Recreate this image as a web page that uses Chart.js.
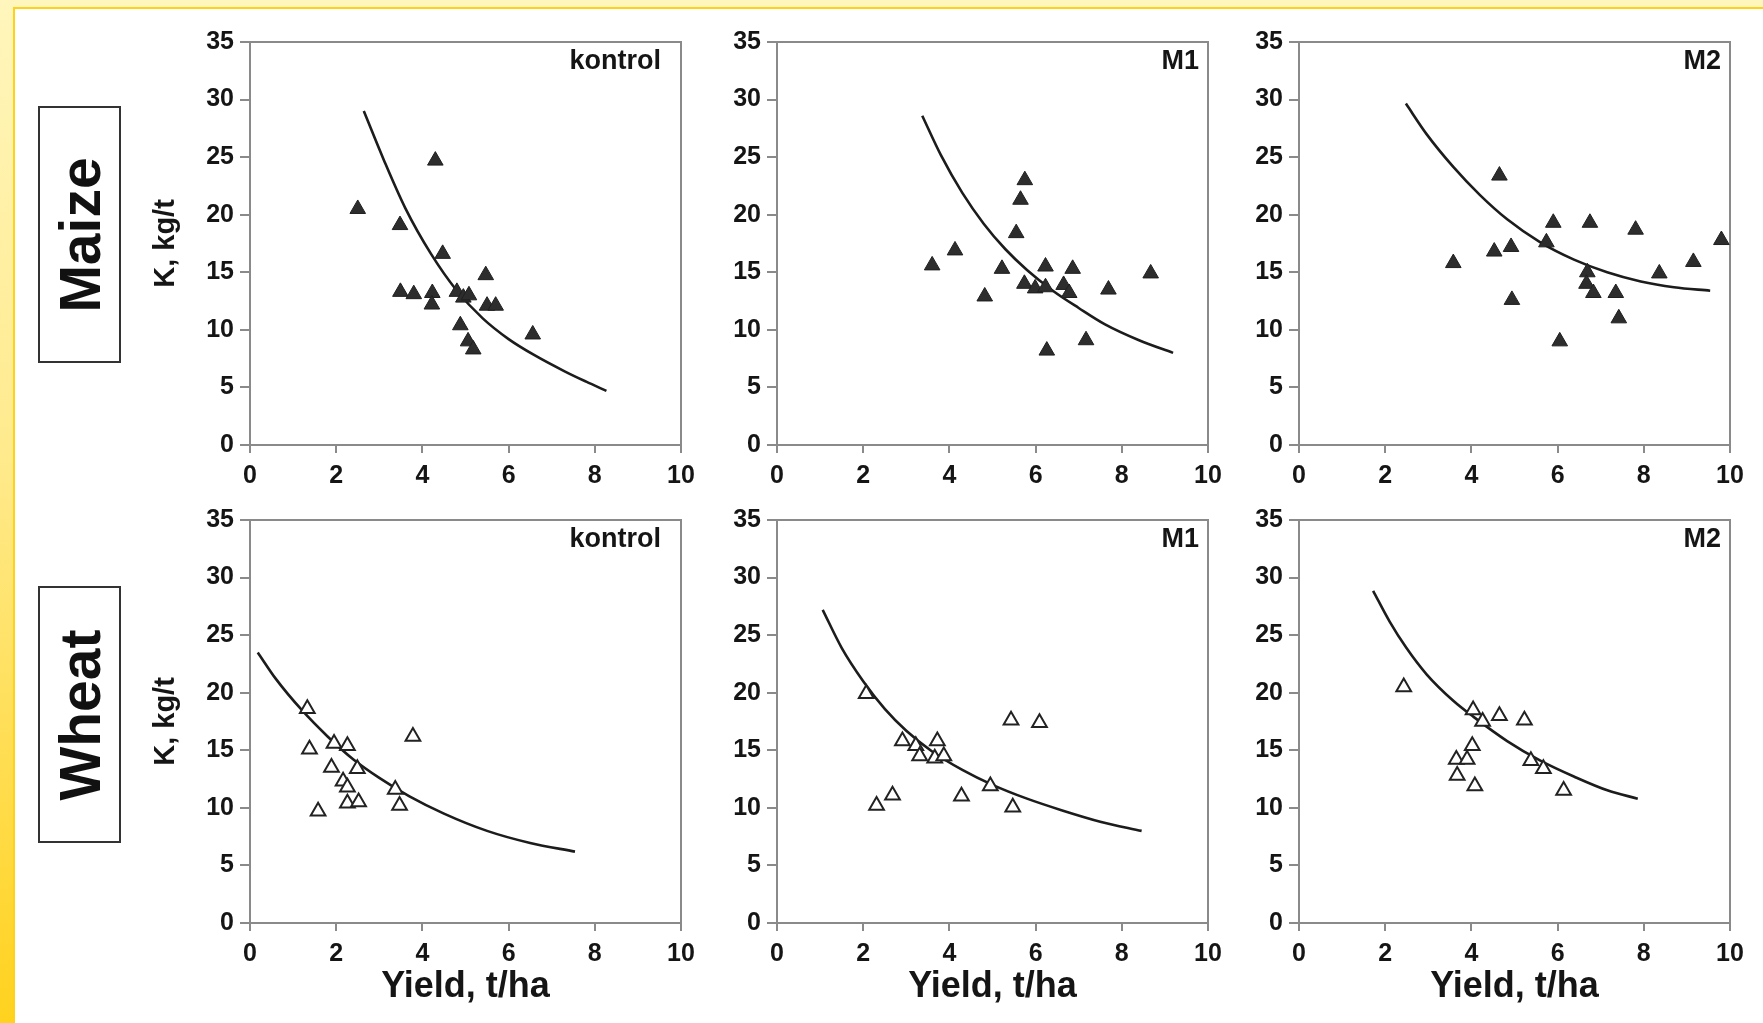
<!DOCTYPE html>
<html>
<head>
<meta charset="utf-8">
<script src="https://cdn.jsdelivr.net/npm/chart.js@4.4.1/dist/chart.umd.min.js"></script>
<style>
  body {
    margin: 0;
    width: 1763px;
    height: 1023px;
    overflow: hidden;
    position: relative;
    background: linear-gradient(180deg, #fff6bd 0%, #ffea8c 45%, #ffd21e 100%);
    font-family: "Liberation Sans", Arial, sans-serif;
  }
  #sheet {
    position: absolute;
    left: 13px; top: 7px; right: 0; bottom: 0;
    background: #fff;
    border-left: 2px solid #ffd21a;
    border-top: 2px solid #ffd21a;
  }
  .crop {
    position: absolute;
    left: 38px;
    width: 79px;
    height: 253px;
    border: 2px solid #333;
    background: #fff;
  }
  .crop span {
    position: absolute;
    left: 50%; top: 50%;
    transform: translate(-50%, -50%) rotate(-90deg);
    font-weight: bold;
    font-size: 57px;
    color: #111;
    white-space: nowrap;
  }
  canvas { position: absolute; }
</style>
</head>
<body>
<div id="sheet"></div>
<div class="crop" style="top:106px"><span>Maize</span></div>
<div class="crop" style="top:586px"><span>Wheat</span></div>

<script>
// axis ticks
var xTicks = [0, 2, 4, 6, 8, 10];
var yTicks = [0, 5, 10, 15, 20, 25, 30, 35];
var treatments = ["kontrol", "M1", "M2"];
var crops = ["Maize", "Wheat"];

// measured points [yield t/ha, K kg/t]
var maizeKontrolPts = [[2.5,20.5],[4.3,24.7],[3.48,19.1],[4.47,16.6],[3.49,13.3],[3.8,13.1],[4.23,13.2],[4.22,12.2],[4.8,13.3],[4.95,12.8],[5.08,13.0],[5.47,14.75],[5.5,12.1],[5.7,12.1],[4.88,10.4],[5.06,9.0],[5.18,8.3],[6.56,9.6]];
var maizeM1Pts = [[3.6,15.6],[4.13,16.9],[4.82,12.9],[5.22,15.3],[5.55,18.4],[5.65,21.3],[5.75,23.0],[5.74,14.0],[5.99,13.6],[6.23,13.7],[6.23,15.5],[6.26,8.2],[6.65,13.9],[6.78,13.2],[6.86,15.3],[7.17,9.1],[7.69,13.5],[8.67,14.9]];
var maizeM2Pts = [[3.58,15.8],[4.53,16.8],[4.65,23.4],[4.92,17.2],[4.94,12.6],[5.74,17.6],[5.9,19.3],[6.05,9.0],[6.69,15.0],[6.67,14.0],[6.75,19.3],[6.83,13.2],[7.35,13.2],[7.42,11.0],[7.81,18.7],[8.36,14.9],[9.15,15.9],[9.8,17.8]];
var wheatKontrolPts = [[1.33,18.6],[1.38,15.1],[1.58,9.7],[1.95,15.6],[1.89,13.5],[2.26,15.4],[2.16,12.3],[2.26,11.8],[2.26,10.4],[2.49,13.4],[2.52,10.5],[3.37,11.6],[3.47,10.2],[3.78,16.2]];
var wheatM1Pts = [[2.07,19.9],[2.31,10.2],[2.68,11.1],[2.91,15.8],[3.22,15.4],[3.31,14.5],[3.66,14.3],[3.72,15.8],[3.87,14.5],[4.28,11.0],[4.95,11.9],[5.43,17.6],[5.47,10.05],[6.09,17.4]];
var wheatM2Pts = [[2.43,20.5],[3.65,14.2],[3.67,12.8],[3.9,14.2],[4.02,15.4],[4.04,18.5],[4.08,11.9],[4.26,17.5],[4.65,18.0],[5.23,17.6],[5.38,14.1],[5.67,13.4],[6.14,11.5]];

// fitted curves
var maizeKontrolFit = [[2.64,29.0],[3.1,24.8],[3.6,20.6],[4.2,16.6],[4.8,13.4],[5.4,11.0],[6.0,9.2],[6.6,7.8],[7.3,6.4],[7.8,5.5],[8.27,4.7]];
var maizeM1Fit = [[3.37,28.6],[3.8,25.2],[4.3,21.9],[4.8,19.2],[5.3,17.0],[5.8,15.2],[6.4,13.4],[7.0,11.9],[7.6,10.5],[8.4,9.1],[9.19,8.0]];
var maizeM2Fit = [[2.48,29.65],[2.96,27.0],[3.58,24.15],[4.2,21.7],[4.83,19.6],[5.6,17.6],[6.38,16.1],[7.15,15.0],[7.93,14.2],[8.7,13.7],[9.54,13.4]];
var wheatKontrolFit = [[0.18,23.5],[0.6,21.2],[1.2,18.5],[1.8,16.2],[2.4,14.2],[3.0,12.6],[3.7,11.0],[4.5,9.5],[5.5,8.0],[6.5,6.95],[7.54,6.2]];
var wheatM1Fit = [[1.06,27.2],[1.5,23.9],[2.0,21.0],[2.5,18.6],[3.0,16.7],[3.6,14.9],[4.3,13.3],[5.0,12.0],[5.8,10.8],[6.6,9.8],[7.5,8.8],[8.46,8.0]];
var wheatM2Fit = [[1.72,28.85],[2.1,26.2],[2.49,23.9],[2.96,21.6],[3.58,19.3],[4.05,17.9],[4.83,15.8],[5.6,14.1],[6.39,12.7],[7.17,11.5],[7.86,10.8]];

var pointSets = [[maizeKontrolPts, maizeM1Pts, maizeM2Pts], [wheatKontrolPts, wheatM1Pts, wheatM2Pts]];
var fitSets = [[maizeKontrolFit, maizeM1Fit, maizeM2Fit], [wheatKontrolFit, wheatM1Fit, wheatM2Fit]];

// layout of the six plot areas on the page
var plotLefts = [250, 777, 1299];
var plotTops = [41, 519];
var plotW = 431, plotH = 404;
var yAxisW = 120, xAxisH = 95, padTop = 20, padRight = 30;

var axisColor = "#8a8a8a";
var textColor = "#151515";
Chart.defaults.font.family = '"Liberation Sans", Arial, sans-serif';

function toXY(arr) {
  return arr.map(function (p) { return { x: p[0], y: p[1] }; });
}

// frame on top/right + treatment label
var framePlugin = {
  id: "frame",
  beforeDatasetsDraw: function (chart, args, opts) {
    var ctx = chart.ctx, a = chart.chartArea;
    ctx.save();
    ctx.strokeStyle = axisColor;
    ctx.lineWidth = 2;
    ctx.beginPath();
    ctx.moveTo(a.left, a.top);
    ctx.lineTo(a.right, a.top);
    ctx.lineTo(a.right, a.bottom);
    ctx.stroke();
    ctx.font = "bold 27px 'Liberation Sans', Arial, sans-serif";
    ctx.fillStyle = textColor;
    ctx.textAlign = "right";
    ctx.textBaseline = "middle";
    ctx.fillText(opts.label, a.right - opts.inset, a.top + 20);
    ctx.restore();
  }
};

for (var r = 0; r < 2; r++) {
  for (var c = 0; c < 3; c++) {
    var cv = document.createElement("canvas");
    cv.width = yAxisW + plotW + padRight;
    cv.height = padTop + plotH + xAxisH;
    cv.style.left = (plotLefts[c] - yAxisW) + "px";
    cv.style.top = (plotTops[r] - padTop) + "px";
    document.body.appendChild(cv);

    var filled = r === 0;
    new Chart(cv.getContext("2d"), {
      type: "scatter",
      data: {
        datasets: [
          {
            label: crops[r] + " " + treatments[c],
            data: toXY(pointSets[r][c]),
            pointStyle: "triangle",
            pointRadius: filled ? 9 : 8.5,
            backgroundColor: filled ? "#2d2d2d" : "#ffffff",
            borderColor: filled ? "#1f1f1f" : "#222222",
            borderWidth: filled ? 1 : 2,
          },
          {
            label: "fit",
            data: toXY(fitSets[r][c]),
            showLine: true,
            borderColor: "#1c1c1c",
            borderWidth: 2.6,
            pointRadius: 0,
            cubicInterpolationMode: "monotone",
            fill: false,
          },
        ],
      },
      options: {
        responsive: false,
        animation: false,
        devicePixelRatio: 1,
        layout: { padding: { left: 0, top: padTop, right: padRight, bottom: 0 } },
        plugins: {
          legend: { display: false },
          tooltip: { enabled: false },
          frame: { label: treatments[c], inset: c === 0 ? 20 : 9 },
        },
        scales: {
          x: {
            type: "linear",
            min: xTicks[0],
            max: xTicks[xTicks.length - 1],
            afterBuildTicks: function (s) { s.ticks = xTicks.map(function (v) { return { value: v }; }); },
            afterFit: function (s) { s.height = xAxisH; },
            ticks: { font: { size: 25, weight: "bold" }, color: textColor, padding: 8, maxRotation: 0 },
            grid: { drawOnChartArea: false, drawTicks: true, tickLength: 8, color: axisColor, lineWidth: 2 },
            border: { display: true, color: axisColor, width: 2 },
            title: {
              display: r === 1,
              text: "Yield, t/ha",
              color: textColor,
              font: { size: 36, weight: "bold" },
              padding: { top: 0, bottom: 9 },
            },
          },
          y: {
            type: "linear",
            min: yTicks[0],
            max: yTicks[yTicks.length - 1],
            afterBuildTicks: function (s) { s.ticks = yTicks.map(function (v) { return { value: v }; }); },
            afterFit: function (s) { s.width = yAxisW; },
            ticks: { font: { size: 25, weight: "bold" }, color: textColor, padding: 6 },
            grid: { drawOnChartArea: false, drawTicks: true, tickLength: 10, color: axisColor, lineWidth: 2 },
            border: { display: true, color: axisColor, width: 2 },
            title: {
              display: c === 0,
              text: "K, kg/t",
              color: textColor,
              font: { size: 29, weight: "bold" },
              padding: { top: 19, bottom: 0 },
            },
          },
        },
      },
      plugins: [framePlugin],
    });
  }
}
</script>
</body>
</html>
